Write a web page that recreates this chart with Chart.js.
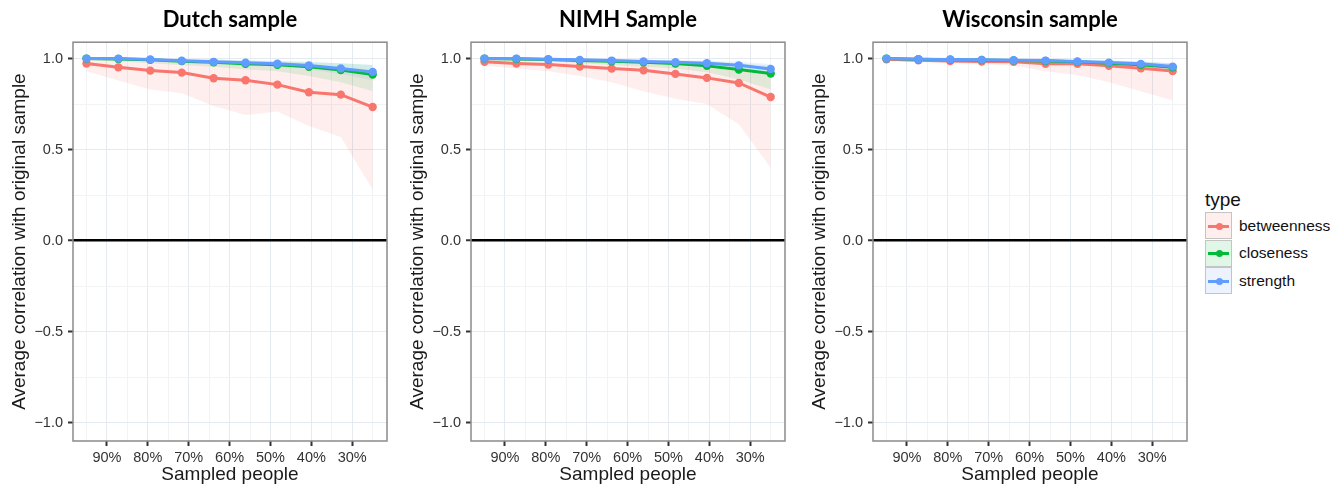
<!DOCTYPE html>
<html>
<head>
<meta charset="UTF-8">
<title>Centrality stability by sample</title>
<script src="https://cdn.jsdelivr.net/npm/chart.js"></script>
<style>
  body { margin: 0; background: #fff; width: 1332px; height: 486px; position: relative; overflow: hidden;
         font-family: 'Liberation Sans', Arial, sans-serif; }
  .panel { position: absolute; top: 0; }
  #legend { position: absolute; left: 1205px; top: 187px; color: #111; }
  #legend .lt { font-size: 19px; height: 25px; line-height: 25px; }
  #legend .row { display: flex; align-items: center; height: 27.5px; }
  #legend .key { position: relative; width: 27px; height: 27px; border: 1px solid #c4c4c4; box-sizing: border-box; }
  #legend .key .ln { position: absolute; left: 2px; right: 2px; top: 11.5px; height: 3px; }
  #legend .key .pt { position: absolute; left: 9.5px; top: 9.5px; width: 7px; height: 7px; border-radius: 50%; }
  #legend .lab { font-size: 15.5px; margin-left: 7px; }
</style>
</head>
<body>
<canvas id="c1" class="panel" style="left:0px" width="395" height="486"></canvas>
<canvas id="c2" class="panel" style="left:398px" width="395" height="486"></canvas>
<canvas id="c3" class="panel" style="left:800px" width="395" height="486"></canvas>
<div id="legend"><div class="lt">type</div></div>
<script>
// proportion of people kept in each resample (%)
const sampled = [95, 87.2, 79.4, 71.7, 63.9, 56.1, 48.3, 40.6, 32.8, 25];
const xTicks = [90, 80, 70, 60, 50, 40, 30];
const xGrid = [25, 30, 35, 40, 45, 50, 55, 60, 65, 70, 75, 80, 85, 90, 95];
const yTicks = [-1, -0.5, 0, 0.5, 1];
const yGrid = [-1, -0.75, -0.5, -0.25, 0, 0.25, 0.5, 0.75, 1];

const types = ['betweenness', 'closeness', 'strength'];
const colors = ['#F8766D', '#00BA38', '#619CFF'];
const fills = ['rgba(248,118,109,0.12)', 'rgba(0,186,56,0.12)', 'rgba(97,156,255,0.12)'];

// Dutch sample
const dutchBetw   = [0.973, 0.952, 0.934, 0.923, 0.892, 0.881, 0.857, 0.815, 0.802, 0.734];
const dutchBetwLo = [0.93, 0.88, 0.83, 0.81, 0.74, 0.69, 0.71, 0.63, 0.57, 0.28];
const dutchBetwHi = [0.995, 0.99, 0.985, 0.98, 0.97, 0.965, 0.955, 0.94, 0.935, 0.91];
const dutchClos   = [1.0, 0.998, 0.993, 0.986, 0.98, 0.972, 0.966, 0.955, 0.937, 0.912];
const dutchClosLo = [0.99, 0.985, 0.975, 0.965, 0.955, 0.94, 0.93, 0.905, 0.87, 0.82];
const dutchClosHi = [1.0, 1.0, 1.0, 0.998, 0.995, 0.99, 0.985, 0.98, 0.975, 0.965];
const dutchStr    = [1.0, 1.0, 0.995, 0.988, 0.982, 0.977, 0.972, 0.962, 0.946, 0.927];
const dutchStrLo  = [0.995, 0.99, 0.985, 0.975, 0.97, 0.96, 0.955, 0.94, 0.915, 0.88];
const dutchStrHi  = [1.0, 1.0, 1.0, 0.998, 0.995, 0.99, 0.988, 0.983, 0.975, 0.965];

// NIMH sample
const nimhBetw   = [0.982, 0.973, 0.967, 0.956, 0.945, 0.936, 0.916, 0.894, 0.866, 0.789];
const nimhBetwLo = [0.96, 0.945, 0.93, 0.905, 0.87, 0.82, 0.78, 0.75, 0.64, 0.4];
const nimhBetwHi = [0.995, 0.993, 0.99, 0.985, 0.98, 0.975, 0.965, 0.955, 0.94, 0.91];
const nimhClos   = [1.0, 0.998, 0.995, 0.989, 0.985, 0.98, 0.973, 0.96, 0.94, 0.918];
const nimhClosLo = [0.995, 0.99, 0.985, 0.975, 0.965, 0.955, 0.945, 0.925, 0.885, 0.83];
const nimhClosHi = [1.0, 1.0, 1.0, 0.998, 0.996, 0.993, 0.99, 0.985, 0.975, 0.96];
const nimhStr    = [1.0, 1.0, 0.996, 0.993, 0.989, 0.984, 0.98, 0.974, 0.963, 0.943];
const nimhStrLo  = [0.998, 0.995, 0.99, 0.985, 0.98, 0.972, 0.965, 0.955, 0.94, 0.91];
const nimhStrHi  = [1.0, 1.0, 1.0, 0.999, 0.997, 0.995, 0.992, 0.988, 0.982, 0.97];

// Wisconsin sample
const wiscBetw   = [0.996, 0.991, 0.987, 0.984, 0.982, 0.971, 0.971, 0.96, 0.947, 0.932];
const wiscBetwLo = [0.99, 0.98, 0.975, 0.97, 0.96, 0.93, 0.91, 0.87, 0.82, 0.77];
const wiscBetwHi = [1.0, 1.0, 0.998, 0.996, 0.995, 0.99, 0.99, 0.985, 0.978, 0.97];
const wiscClos   = [1.0, 0.996, 0.994, 0.992, 0.99, 0.987, 0.982, 0.975, 0.966, 0.952];
const wiscClosLo = [0.998, 0.993, 0.99, 0.985, 0.982, 0.977, 0.97, 0.96, 0.945, 0.925];
const wiscClosHi = [1.0, 1.0, 0.998, 0.997, 0.996, 0.994, 0.992, 0.988, 0.982, 0.975];
const wiscStr    = [1.0, 0.996, 0.995, 0.993, 0.991, 0.989, 0.984, 0.978, 0.971, 0.956];
const wiscStrLo  = [0.998, 0.993, 0.99, 0.987, 0.984, 0.98, 0.975, 0.965, 0.955, 0.935];
const wiscStrHi  = [1.0, 1.0, 0.999, 0.998, 0.997, 0.995, 0.993, 0.99, 0.985, 0.975];

Chart.defaults.font.family = "'Liberation Sans', Arial, sans-serif";

const pts = arr => arr.map((y, i) => ({ x: sampled[i], y: y }));

// grey frame around each plot area (theme_bw style)
const panelBorder = {
  id: 'panelBorder',
  afterDatasetsDraw(chart) {
    const a = chart.chartArea, ctx = chart.ctx;
    ctx.save();
    ctx.strokeStyle = '#8a8a8a';
    ctx.lineWidth = 1.5;
    ctx.strokeRect(a.left, a.top, a.right - a.left, a.bottom - a.top);
    ctx.restore();
  }
};

function makePanel(id, title, lines, los, his) {
  const datasets = [];
  // ribbons first (drawn underneath)
  for (let i = 0; i < 3; i++) {
    datasets.push({ data: pts(his[i]), borderColor: 'transparent', borderWidth: 0, pointRadius: 0, fill: false, order: 10 + i * 2 });
    datasets.push({ data: pts(los[i]), borderColor: 'transparent', borderWidth: 0, pointRadius: 0, fill: '-1', backgroundColor: fills[i], order: 10 + i * 2 });
  }
  for (let i = 0; i < 3; i++) {
    datasets.push({
      label: types[i], data: pts(lines[i]), borderColor: colors[i], borderWidth: 3,
      pointRadius: 4.2, pointBackgroundColor: colors[i], pointBorderWidth: 0,
      fill: false, tension: 0, order: 2 - i
    });
  }
  new Chart(document.getElementById(id), {
    type: 'line',
    data: { datasets },
    options: {
      responsive: false,
      animation: false,
      layout: { padding: { left: 0, right: 8, top: 0, bottom: 0 } },
      plugins: {
        legend: { display: false },
        tooltip: { enabled: false },
        title: {
          display: true, text: title, fullSize: false, color: '#000',
          font: { family: 'Lato', size: 22, weight: 'bold', lineHeight: 1.1 },
          padding: { top: 8, bottom: 10 }
        }
      },
      scales: {
        x: {
          type: 'linear', reverse: true, min: 21.5, max: 98.3,
          afterBuildTicks: s => { s.ticks = xGrid.map(v => ({ value: v })); },
          afterFit: s => { s.height = 45; },
          ticks: {
            autoSkip: false, maxRotation: 0, padding: 3, color: '#333', font: { size: 14.5 },
            callback: v => xTicks.includes(v) ? v + '%' : ''
          },
          grid: {
            color: c => xTicks.includes(c.tick.value) ? '#e4eaef' : '#f1f3f5',
            tickColor: c => xTicks.includes(c.tick.value) ? '#333' : 'transparent',
            tickLength: 5, tickWidth: 2
          },
          border: { display: false },
          title: { display: true, text: 'Sampled people', color: '#1a1a1a', font: { size: 19 }, padding: { top: 0, bottom: 0 } }
        },
        y: {
          min: -1.1, max: 1.09,
          afterBuildTicks: s => { s.ticks = yGrid.map(v => ({ value: v })); },
          afterFit: s => { s.width = 73; },
          ticks: {
            autoSkip: false, padding: 5, color: '#333', font: { size: 14.5 },
            callback: v => yTicks.includes(v) ? v.toFixed(1).replace('-', '\u2212') : ''
          },
          grid: {
            color: c => c.tick.value === 0 ? '#000' : (yTicks.includes(c.tick.value) ? '#e4eaef' : '#f1f3f5'),
            lineWidth: c => c.tick.value === 0 ? 2.5 : 1,
            tickColor: c => yTicks.includes(c.tick.value) ? '#333' : 'transparent',
            tickLength: 5, tickWidth: 2
          },
          border: { display: false },
          title: { display: true, text: 'Average correlation with original sample', color: '#1a1a1a', font: { size: 19 }, padding: { top: 8, bottom: 0 } }
        }
      }
    },
    plugins: [panelBorder]
  });
}

makePanel('c1', 'Dutch sample',
  [dutchBetw, dutchClos, dutchStr], [dutchBetwLo, dutchClosLo, dutchStrLo], [dutchBetwHi, dutchClosHi, dutchStrHi]);
makePanel('c2', 'NIMH Sample',
  [nimhBetw, nimhClos, nimhStr], [nimhBetwLo, nimhClosLo, nimhStrLo], [nimhBetwHi, nimhClosHi, nimhStrHi]);
makePanel('c3', 'Wisconsin sample',
  [wiscBetw, wiscClos, wiscStr], [wiscBetwLo, wiscClosLo, wiscStrLo], [wiscBetwHi, wiscClosHi, wiscStrHi]);

// legend
const legend = document.getElementById('legend');
types.forEach((t, i) => {
  const row = document.createElement('div');
  row.className = 'row';
  row.innerHTML = '<div class="key" style="background:' + fills[i] + '">' +
    '<div class="ln" style="background:' + colors[i] + '"></div>' +
    '<div class="pt" style="background:' + colors[i] + '"></div></div>' +
    '<span class="lab">' + t + '</span>';
  legend.appendChild(row);
});
</script>
</body>
</html>
